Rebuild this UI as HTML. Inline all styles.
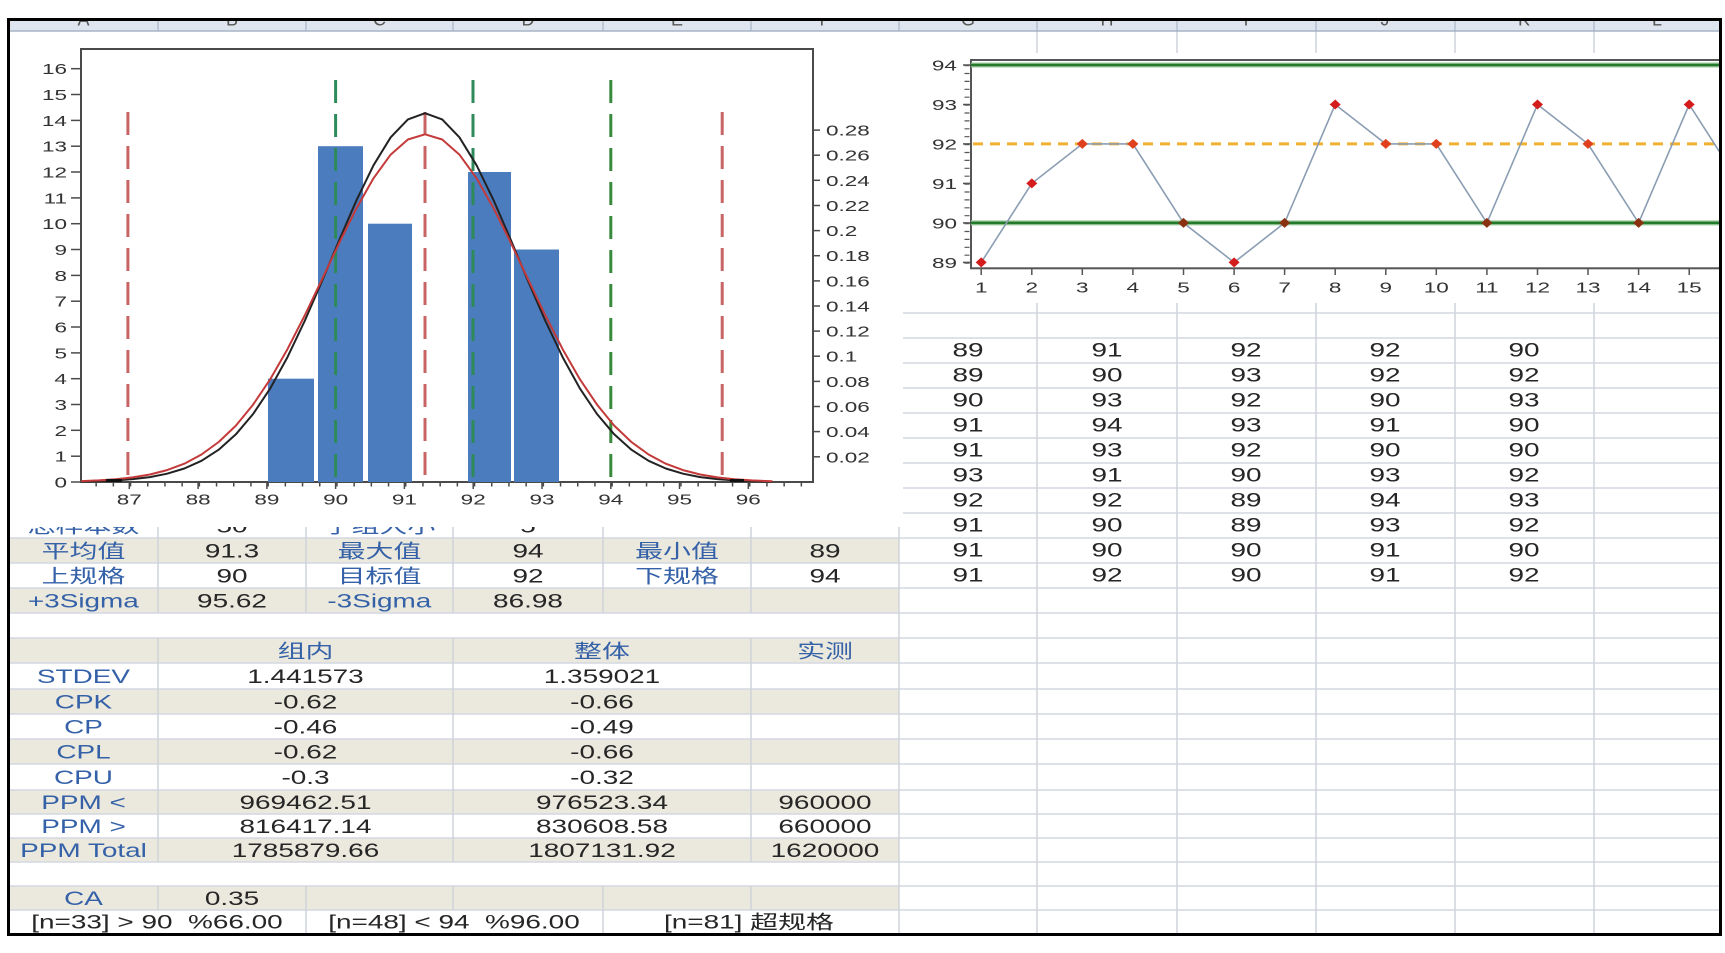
<!DOCTYPE html>
<html><head><meta charset="utf-8"><style>
html,body{margin:0;padding:0;background:#fff;}
svg{display:block;}
text{font-family:"Liberation Sans","Noto Sans CJK SC",sans-serif;}
.t{font-size:19px;text-anchor:middle;transform-box:fill-box;transform-origin:center;transform:scaleX(1.47);}
.b{fill:#3461a8;}
.v{fill:#262626;}
.ax{font-size:15px;fill:#333;transform-box:fill-box;transform:scaleX(1.5);}
.m{text-anchor:middle;transform-origin:center;}
.e{text-anchor:end;transform-origin:100% 50%;}
.s{text-anchor:start;transform-origin:0% 50%;}
.hd{font-size:18px;fill:#555;text-anchor:middle;}
</style></head><body>
<svg width="1725" height="953" viewBox="0 0 1725 953" xmlns="http://www.w3.org/2000/svg">
<defs>
<clipPath id="inner"><rect x="10" y="21" width="1709" height="912"/></clipPath>
<clipPath id="hdr"><rect x="10" y="21" width="1709" height="10"/></clipPath>
</defs>
<rect x="0" y="0" width="1725" height="953" fill="#fff"/>
<g clip-path="url(#inner)">
<g fill="#ebe9dd">
<rect x="10" y="538" width="889" height="25"/>
<rect x="10" y="588" width="889" height="25"/>
<rect x="10" y="638" width="889" height="25"/>
<rect x="10" y="689" width="889" height="25"/>
<rect x="10" y="739" width="889" height="25"/>
<rect x="10" y="790" width="889" height="24"/>
<rect x="10" y="838" width="889" height="24"/>
<rect x="10" y="886" width="889" height="24"/>
</g>
<g stroke="#d3d8e1" stroke-width="1.5">
<line x1="10" y1="313" x2="1719" y2="313"/><line x1="10" y1="338" x2="1719" y2="338"/>
<line x1="10" y1="363" x2="1719" y2="363"/><line x1="10" y1="388" x2="1719" y2="388"/>
<line x1="10" y1="413" x2="1719" y2="413"/><line x1="10" y1="438" x2="1719" y2="438"/>
<line x1="10" y1="463" x2="1719" y2="463"/><line x1="10" y1="488" x2="1719" y2="488"/>
<line x1="10" y1="513" x2="1719" y2="513"/><line x1="10" y1="538" x2="1719" y2="538"/>
<line x1="10" y1="563" x2="1719" y2="563"/><line x1="10" y1="588" x2="1719" y2="588"/>
<line x1="10" y1="613" x2="1719" y2="613"/><line x1="10" y1="638" x2="1719" y2="638"/>
<line x1="10" y1="663" x2="1719" y2="663"/><line x1="10" y1="689" x2="1719" y2="689"/>
<line x1="10" y1="714" x2="1719" y2="714"/><line x1="10" y1="739" x2="1719" y2="739"/>
<line x1="10" y1="764" x2="1719" y2="764"/><line x1="10" y1="790" x2="1719" y2="790"/>
<line x1="10" y1="814" x2="1719" y2="814"/><line x1="10" y1="838" x2="1719" y2="838"/>
<line x1="10" y1="862" x2="1719" y2="862"/><line x1="10" y1="886" x2="1719" y2="886"/>
<line x1="10" y1="910" x2="1719" y2="910"/>
</g>
<g stroke="#cfd3da" stroke-width="1.5">
<line x1="158" y1="513" x2="158" y2="613"/><line x1="158" y1="638" x2="158" y2="862"/><line x1="158" y1="886" x2="158" y2="910"/>
<line x1="306" y1="513" x2="306" y2="613"/><line x1="306" y1="886" x2="306" y2="935"/>
<line x1="453" y1="513" x2="453" y2="613"/><line x1="453" y1="638" x2="453" y2="862"/><line x1="453" y1="886" x2="453" y2="910"/>
<line x1="603" y1="513" x2="603" y2="613"/><line x1="603" y1="886" x2="603" y2="935"/>
<line x1="751" y1="513" x2="751" y2="613"/><line x1="751" y1="638" x2="751" y2="862"/><line x1="751" y1="886" x2="751" y2="910"/>
<line x1="899" y1="303" x2="899" y2="935"/>
<line x1="1037" y1="31" x2="1037" y2="935"/>
<line x1="1177" y1="31" x2="1177" y2="935"/>
<line x1="1316" y1="31" x2="1316" y2="935"/>
<line x1="1455" y1="31" x2="1455" y2="935"/>
<line x1="1594" y1="31" x2="1594" y2="935"/>
</g>
<text class="t b" x="83.5" y="532.5">总样本数</text><text class="t v" x="232" y="532.5">50</text>
<text class="t b" x="379.5" y="532.5">子组大小</text><text class="t v" x="528" y="532.5">5</text>

<text class="t b" x="83.5" y="557.5">平均值</text><text class="t v" x="232" y="557.5">91.3</text>
<text class="t b" x="379.5" y="557.5">最大值</text><text class="t v" x="528" y="557.5">94</text>
<text class="t b" x="677" y="557.5">最小值</text><text class="t v" x="825" y="557.5">89</text>

<text class="t b" x="83.5" y="582.5">上规格</text><text class="t v" x="232" y="582.5">90</text>
<text class="t b" x="379.5" y="582.5">目标值</text><text class="t v" x="528" y="582.5">92</text>
<text class="t b" x="677" y="582.5">下规格</text><text class="t v" x="825" y="582.5">94</text>

<text class="t b" x="83.5" y="607.5">+3Sigma</text><text class="t v" x="232" y="607.5">95.62</text>
<text class="t b" x="379.5" y="607.5">-3Sigma</text><text class="t v" x="528" y="607.5">86.98</text>

<text class="t b" x="305.5" y="657.5">组内</text><text class="t b" x="602" y="657.5">整体</text><text class="t b" x="825" y="657.5">实测</text>

<text class="t b" x="83.5" y="683">STDEV</text><text class="t v" x="305.5" y="683">1.441573</text><text class="t v" x="602" y="683">1.359021</text>
<text class="t b" x="83.5" y="708.5">CPK</text><text class="t v" x="305.5" y="708.5">-0.62</text><text class="t v" x="602" y="708.5">-0.66</text>
<text class="t b" x="83.5" y="733.5">CP</text><text class="t v" x="305.5" y="733.5">-0.46</text><text class="t v" x="602" y="733.5">-0.49</text>
<text class="t b" x="83.5" y="758.5">CPL</text><text class="t v" x="305.5" y="758.5">-0.62</text><text class="t v" x="602" y="758.5">-0.66</text>
<text class="t b" x="83.5" y="784">CPU</text><text class="t v" x="305.5" y="784">-0.3</text><text class="t v" x="602" y="784">-0.32</text>
<text class="t b" x="83.5" y="809">PPM &lt;</text><text class="t v" x="305.5" y="809">969462.51</text><text class="t v" x="602" y="809">976523.34</text><text class="t v" x="825" y="809">960000</text>
<text class="t b" x="83.5" y="833">PPM &gt;</text><text class="t v" x="305.5" y="833">816417.14</text><text class="t v" x="602" y="833">830608.58</text><text class="t v" x="825" y="833">660000</text>
<text class="t b" x="83.5" y="857">PPM Total</text><text class="t v" x="305.5" y="857">1785879.66</text><text class="t v" x="602" y="857">1807131.92</text><text class="t v" x="825" y="857">1620000</text>

<text class="t b" x="83.5" y="905">CA</text><text class="t v" x="232" y="905">0.35</text>
<text class="t v" x="157" y="928.5" style="white-space:pre">[n=33] &gt; 90  %66.00</text>
<text class="t v" x="454" y="928.5" style="white-space:pre">[n=48] &lt; 94  %96.00</text>
<text class="t v" x="749" y="928.5" style="white-space:pre">[n=81] 超规格</text>

<text class="t v" x="968" y="356.5">89</text><text class="t v" x="1107" y="356.5">91</text><text class="t v" x="1246" y="356.5">92</text><text class="t v" x="1385" y="356.5">92</text><text class="t v" x="1524" y="356.5">90</text>
<text class="t v" x="968" y="381.5">89</text><text class="t v" x="1107" y="381.5">90</text><text class="t v" x="1246" y="381.5">93</text><text class="t v" x="1385" y="381.5">92</text><text class="t v" x="1524" y="381.5">92</text>
<text class="t v" x="968" y="406.5">90</text><text class="t v" x="1107" y="406.5">93</text><text class="t v" x="1246" y="406.5">92</text><text class="t v" x="1385" y="406.5">90</text><text class="t v" x="1524" y="406.5">93</text>
<text class="t v" x="968" y="431.5">91</text><text class="t v" x="1107" y="431.5">94</text><text class="t v" x="1246" y="431.5">93</text><text class="t v" x="1385" y="431.5">91</text><text class="t v" x="1524" y="431.5">90</text>
<text class="t v" x="968" y="456.5">91</text><text class="t v" x="1107" y="456.5">93</text><text class="t v" x="1246" y="456.5">92</text><text class="t v" x="1385" y="456.5">90</text><text class="t v" x="1524" y="456.5">90</text>
<text class="t v" x="968" y="481.5">93</text><text class="t v" x="1107" y="481.5">91</text><text class="t v" x="1246" y="481.5">90</text><text class="t v" x="1385" y="481.5">93</text><text class="t v" x="1524" y="481.5">92</text>
<text class="t v" x="968" y="506.5">92</text><text class="t v" x="1107" y="506.5">92</text><text class="t v" x="1246" y="506.5">89</text><text class="t v" x="1385" y="506.5">94</text><text class="t v" x="1524" y="506.5">93</text>
<text class="t v" x="968" y="531.5">91</text><text class="t v" x="1107" y="531.5">90</text><text class="t v" x="1246" y="531.5">89</text><text class="t v" x="1385" y="531.5">93</text><text class="t v" x="1524" y="531.5">92</text>
<text class="t v" x="968" y="556.5">91</text><text class="t v" x="1107" y="556.5">90</text><text class="t v" x="1246" y="556.5">90</text><text class="t v" x="1385" y="556.5">91</text><text class="t v" x="1524" y="556.5">90</text>
<text class="t v" x="968" y="581.5">91</text><text class="t v" x="1107" y="581.5">92</text><text class="t v" x="1246" y="581.5">90</text><text class="t v" x="1385" y="581.5">91</text><text class="t v" x="1524" y="581.5">92</text>

<!-- LEFT CHART OBJECT -->
<rect x="10" y="31" width="893" height="496" fill="#fff"/>
<rect x="81" y="49" width="732" height="433" fill="#fff" stroke="#4a4a4a" stroke-width="2"/>
<g fill="#4b7cbe">
<rect x="268" y="378.7" width="46" height="103.3"/>
<rect x="318" y="146.2" width="45" height="335.8"/>
<rect x="368" y="223.7" width="44" height="258.3"/>
<rect x="468" y="172" width="43" height="310"/>
<rect x="514" y="249.5" width="45" height="232.5"/>
</g>
<g stroke-width="3" fill="none" stroke-dasharray="23 11">
<line x1="127.9" y1="112" x2="127.9" y2="482" stroke="#c96464"/>
<line x1="425" y1="112" x2="425" y2="482" stroke="#c96464"/>
<line x1="722.2" y1="112" x2="722.2" y2="482" stroke="#c96464"/>
<line x1="335.6" y1="80" x2="335.6" y2="482" stroke="#2e8a5a"/>
<line x1="473" y1="80" x2="473" y2="482" stroke="#2e8a5a"/>
<line x1="610.8" y1="80" x2="610.8" y2="482" stroke="#3a8a3e"/>
</g>
<polyline fill="none" stroke="#222" stroke-width="2" stroke-linejoin="round" points="81.2,481.5 98.4,481.1 115.6,480.4 132.7,479.1 149.9,477.1 167.1,473.7 184.3,468.5 201.5,460.8 218.7,449.7 235.9,434.3 253.1,414.0 270.3,388.3 287.5,357.1 304.7,321.0 321.9,281.4 339.1,240.4 356.3,200.7 373.5,165.3 390.7,137.3 407.9,119.4 425.05,113.2 442.2,119.4 459.4,137.3 476.6,165.3 493.8,200.7 511.0,240.4 528.2,281.4 545.4,321.0 562.6,357.1 579.8,388.3 597.0,414.0 614.2,434.3 631.4,449.7 648.6,460.8 665.8,468.5 683.0,473.7 700.2,477.1 717.4,479.1 734.6,480.4 751.7,481.1 768.9,481.5 772.4,481.6"/>
<polyline fill="none" stroke="#c43a3a" stroke-width="2" stroke-linejoin="round" points="81.2,481.1 98.4,480.4 115.6,479.2 132.7,477.4 149.9,474.5 167.1,470.1 184.3,463.7 201.5,454.5 218.7,442.0 235.9,425.6 253.1,404.6 270.3,379.1 287.5,349.1 304.7,315.5 321.9,279.6 339.1,243.2 356.3,208.6 373.5,178.3 390.7,154.6 407.9,139.5 425.05,134.3 442.2,139.5 459.4,154.6 476.6,178.3 493.8,208.6 511.0,243.2 528.2,279.6 545.4,315.5 562.6,349.1 579.8,379.1 597.0,404.6 614.2,425.6 631.4,442.0 648.6,454.5 665.8,463.7 683.0,470.1 700.2,474.5 717.4,477.4 734.6,479.2 751.7,480.4 768.9,481.1 772.4,481.3"/>
<line x1="106" y1="480.5" x2="122" y2="480.5" stroke="#111" stroke-width="3"/>
<line x1="730" y1="480.5" x2="744" y2="480.5" stroke="#111" stroke-width="3"/>
<g stroke="#4a4a4a" stroke-width="1.5">
<line x1="71" y1="482" x2="81" y2="482"/><line x1="71" y1="456.2" x2="81" y2="456.2"/><line x1="71" y1="430.3" x2="81" y2="430.3"/><line x1="71" y1="404.5" x2="81" y2="404.5"/><line x1="71" y1="378.7" x2="81" y2="378.7"/><line x1="71" y1="352.9" x2="81" y2="352.9"/><line x1="71" y1="327" x2="81" y2="327"/><line x1="71" y1="301.2" x2="81" y2="301.2"/><line x1="71" y1="275.4" x2="81" y2="275.4"/><line x1="71" y1="249.5" x2="81" y2="249.5"/><line x1="71" y1="223.7" x2="81" y2="223.7"/><line x1="71" y1="197.9" x2="81" y2="197.9"/><line x1="71" y1="172" x2="81" y2="172"/><line x1="71" y1="146.2" x2="81" y2="146.2"/><line x1="71" y1="120.4" x2="81" y2="120.4"/><line x1="71" y1="94.5" x2="81" y2="94.5"/><line x1="71" y1="68.7" x2="81" y2="68.7"/>
<line x1="813" y1="456.8" x2="820" y2="456.8"/><line x1="813" y1="431.6" x2="820" y2="431.6"/><line x1="813" y1="406.5" x2="820" y2="406.5"/><line x1="813" y1="381.4" x2="820" y2="381.4"/><line x1="813" y1="356.2" x2="820" y2="356.2"/><line x1="813" y1="331.1" x2="820" y2="331.1"/><line x1="813" y1="306" x2="820" y2="306"/><line x1="813" y1="280.9" x2="820" y2="280.9"/><line x1="813" y1="255.7" x2="820" y2="255.7"/><line x1="813" y1="230.6" x2="820" y2="230.6"/><line x1="813" y1="205.5" x2="820" y2="205.5"/><line x1="813" y1="180.3" x2="820" y2="180.3"/><line x1="813" y1="155.2" x2="820" y2="155.2"/><line x1="813" y1="130.1" x2="820" y2="130.1"/>
<line x1="129.3" y1="482" x2="129.3" y2="489"/><line x1="198.1" y1="482" x2="198.1" y2="489"/><line x1="266.9" y1="482" x2="266.9" y2="489"/><line x1="335.6" y1="482" x2="335.6" y2="489"/><line x1="404.4" y1="482" x2="404.4" y2="489"/><line x1="473.2" y1="482" x2="473.2" y2="489"/><line x1="542" y1="482" x2="542" y2="489"/><line x1="610.8" y1="482" x2="610.8" y2="489"/><line x1="679.5" y1="482" x2="679.5" y2="489"/><line x1="748.3" y1="482" x2="748.3" y2="489"/>
</g>
<line x1="94.9" y1="484.5" x2="813" y2="484.5" stroke="#4a4a4a" stroke-width="4" stroke-dasharray="1.5 15.7" stroke-dashoffset="-0.5"/>
<text class="ax e" x="67" y="487.5">0</text><text class="ax e" x="67" y="461.7">1</text><text class="ax e" x="67" y="435.8">2</text><text class="ax e" x="67" y="410">3</text><text class="ax e" x="67" y="384.2">4</text><text class="ax e" x="67" y="358.4">5</text><text class="ax e" x="67" y="332.5">6</text><text class="ax e" x="67" y="306.7">7</text><text class="ax e" x="67" y="280.9">8</text><text class="ax e" x="67" y="255">9</text><text class="ax e" x="67" y="229.2">10</text><text class="ax e" x="67" y="203.4">11</text><text class="ax e" x="67" y="177.5">12</text><text class="ax e" x="67" y="151.7">13</text><text class="ax e" x="67" y="125.9">14</text><text class="ax e" x="67" y="100">15</text><text class="ax e" x="67" y="74.2">16</text>
<text class="ax s" x="826" y="462.3">0.02</text><text class="ax s" x="826" y="437.1">0.04</text><text class="ax s" x="826" y="412">0.06</text><text class="ax s" x="826" y="386.9">0.08</text><text class="ax s" x="826" y="361.7">0.1</text><text class="ax s" x="826" y="336.6">0.12</text><text class="ax s" x="826" y="311.5">0.14</text><text class="ax s" x="826" y="286.4">0.16</text><text class="ax s" x="826" y="261.2">0.18</text><text class="ax s" x="826" y="236.1">0.2</text><text class="ax s" x="826" y="211">0.22</text><text class="ax s" x="826" y="185.8">0.24</text><text class="ax s" x="826" y="160.7">0.26</text><text class="ax s" x="826" y="135.6">0.28</text>
<text class="ax m" x="129.3" y="504.5">87</text><text class="ax m" x="198.1" y="504.5">88</text><text class="ax m" x="266.9" y="504.5">89</text><text class="ax m" x="335.6" y="504.5">90</text><text class="ax m" x="404.4" y="504.5">91</text><text class="ax m" x="473.2" y="504.5">92</text><text class="ax m" x="542" y="504.5">93</text><text class="ax m" x="610.8" y="504.5">94</text><text class="ax m" x="679.5" y="504.5">95</text><text class="ax m" x="748.3" y="504.5">96</text>

<!-- RIGHT CHART OBJECT -->
<rect x="903" y="53" width="820" height="250" fill="#fff"/>
<rect x="971" y="60" width="770" height="208.3" fill="#fff" stroke="#555" stroke-width="2"/>
<line x1="971" y1="65" x2="1725" y2="65" stroke="#9cc89c" stroke-width="5"/>
<line x1="971" y1="65" x2="1725" y2="65" stroke="#237a2b" stroke-width="2.5"/>
<line x1="971" y1="222.9" x2="1725" y2="222.9" stroke="#9cc89c" stroke-width="5"/>
<line x1="971" y1="222.9" x2="1725" y2="222.9" stroke="#237a2b" stroke-width="2.5"/>
<line x1="973" y1="143.9" x2="1725" y2="143.9" stroke="#f0b030" stroke-width="3" stroke-dasharray="10 7"/>
<polyline fill="none" stroke="#8b9db2" stroke-width="1.6" points="981.2,262.4 1031.8,183.4 1082.3,143.9 1132.9,143.9 1183.5,222.9 1234.1,262.4 1284.6,222.9 1335.2,104.5 1385.8,143.9 1436.3,143.9 1486.9,222.9 1537.5,104.5 1588,143.9 1638.6,222.9 1689.2,104.5 1739.8,183.4"/>
<path d="M975.7 262.4l5.5-5l5.5 5l-5.5 5z" fill="#d41c1c"/>
<path d="M1026.3 183.4l5.5-5l5.5 5l-5.5 5z" fill="#d41c1c"/>
<path d="M1076.8 143.9l5.5-5l5.5 5l-5.5 5z" fill="#e0401e"/>
<path d="M1127.4 143.9l5.5-5l5.5 5l-5.5 5z" fill="#e0401e"/>
<path d="M1178 222.9l5.5-5l5.5 5l-5.5 5z" fill="#8a3210"/>
<path d="M1228.6 262.4l5.5-5l5.5 5l-5.5 5z" fill="#d41c1c"/>
<path d="M1279.1 222.9l5.5-5l5.5 5l-5.5 5z" fill="#8a3210"/>
<path d="M1329.7 104.5l5.5-5l5.5 5l-5.5 5z" fill="#d41c1c"/>
<path d="M1380.3 143.9l5.5-5l5.5 5l-5.5 5z" fill="#e0401e"/>
<path d="M1430.8 143.9l5.5-5l5.5 5l-5.5 5z" fill="#e0401e"/>
<path d="M1481.4 222.9l5.5-5l5.5 5l-5.5 5z" fill="#8a3210"/>
<path d="M1532 104.5l5.5-5l5.5 5l-5.5 5z" fill="#d41c1c"/>
<path d="M1582.5 143.9l5.5-5l5.5 5l-5.5 5z" fill="#e0401e"/>
<path d="M1633.1 222.9l5.5-5l5.5 5l-5.5 5z" fill="#8a3210"/>
<path d="M1683.7 104.5l5.5-5l5.5 5l-5.5 5z" fill="#d41c1c"/>
<g stroke="#555" stroke-width="1.5">
<line x1="963" y1="65" x2="971" y2="65"/><line x1="963" y1="104.5" x2="971" y2="104.5"/><line x1="963" y1="143.9" x2="971" y2="143.9"/><line x1="963" y1="183.4" x2="971" y2="183.4"/><line x1="963" y1="222.9" x2="971" y2="222.9"/><line x1="963" y1="262.4" x2="971" y2="262.4"/>
<line x1="981.2" y1="268" x2="981.2" y2="275"/><line x1="1031.8" y1="268" x2="1031.8" y2="275"/><line x1="1082.3" y1="268" x2="1082.3" y2="275"/><line x1="1132.9" y1="268" x2="1132.9" y2="275"/><line x1="1183.5" y1="268" x2="1183.5" y2="275"/><line x1="1234.1" y1="268" x2="1234.1" y2="275"/><line x1="1284.6" y1="268" x2="1284.6" y2="275"/><line x1="1335.2" y1="268" x2="1335.2" y2="275"/><line x1="1385.8" y1="268" x2="1385.8" y2="275"/><line x1="1436.3" y1="268" x2="1436.3" y2="275"/><line x1="1486.9" y1="268" x2="1486.9" y2="275"/><line x1="1537.5" y1="268" x2="1537.5" y2="275"/><line x1="1588" y1="268" x2="1588" y2="275"/><line x1="1638.6" y1="268" x2="1638.6" y2="275"/><line x1="1689.2" y1="268" x2="1689.2" y2="275"/>
</g>
<line x1="967" y1="65" x2="967" y2="268" stroke="#555" stroke-width="5" stroke-dasharray="1.2 6.7"/>
<text class="ax e" x="957" y="70.5">94</text><text class="ax e" x="957" y="110">93</text><text class="ax e" x="957" y="149.4">92</text><text class="ax e" x="957" y="188.9">91</text><text class="ax e" x="957" y="228.4">90</text><text class="ax e" x="957" y="267.9">89</text>
<text class="ax m" x="981.2" y="292.5">1</text><text class="ax m" x="1031.8" y="292.5">2</text><text class="ax m" x="1082.3" y="292.5">3</text><text class="ax m" x="1132.9" y="292.5">4</text><text class="ax m" x="1183.5" y="292.5">5</text><text class="ax m" x="1234.1" y="292.5">6</text><text class="ax m" x="1284.6" y="292.5">7</text><text class="ax m" x="1335.2" y="292.5">8</text><text class="ax m" x="1385.8" y="292.5">9</text><text class="ax m" x="1436.3" y="292.5">10</text><text class="ax m" x="1486.9" y="292.5">11</text><text class="ax m" x="1537.5" y="292.5">12</text><text class="ax m" x="1588" y="292.5">13</text><text class="ax m" x="1638.6" y="292.5">14</text><text class="ax m" x="1689.2" y="292.5">15</text>

<rect x="10" y="21" width="1709" height="10" fill="#dfe5ee"/>
<g clip-path="url(#hdr)">
<text class="hd" x="83.5" y="25.5">A</text><text class="hd" x="232" y="25.5">B</text><text class="hd" x="379.5" y="25.5">C</text><text class="hd" x="528" y="25.5">D</text><text class="hd" x="677" y="25.5">E</text><text class="hd" x="825" y="25.5">F</text><text class="hd" x="968" y="25.5">G</text><text class="hd" x="1107" y="25.5">H</text><text class="hd" x="1246" y="25.5">I</text><text class="hd" x="1385" y="25.5">J</text><text class="hd" x="1524" y="25.5">K</text><text class="hd" x="1657" y="25.5">L</text>
</g>
<g stroke="#b3bfcf" stroke-width="1.5">
<line x1="158" y1="21" x2="158" y2="31"/><line x1="306" y1="21" x2="306" y2="31"/><line x1="453" y1="21" x2="453" y2="31"/><line x1="603" y1="21" x2="603" y2="31"/><line x1="751" y1="21" x2="751" y2="31"/><line x1="899" y1="21" x2="899" y2="31"/><line x1="1037" y1="21" x2="1037" y2="31"/><line x1="1177" y1="21" x2="1177" y2="31"/><line x1="1316" y1="21" x2="1316" y2="31"/><line x1="1455" y1="21" x2="1455" y2="31"/><line x1="1594" y1="21" x2="1594" y2="31"/>
</g>
<line x1="10" y1="31" x2="1719" y2="31" stroke="#a6b3c6" stroke-width="1.5"/>
</g>
<rect x="8.5" y="19.5" width="1712" height="915" fill="none" stroke="#000" stroke-width="3"/>
</svg>
</body></html>
